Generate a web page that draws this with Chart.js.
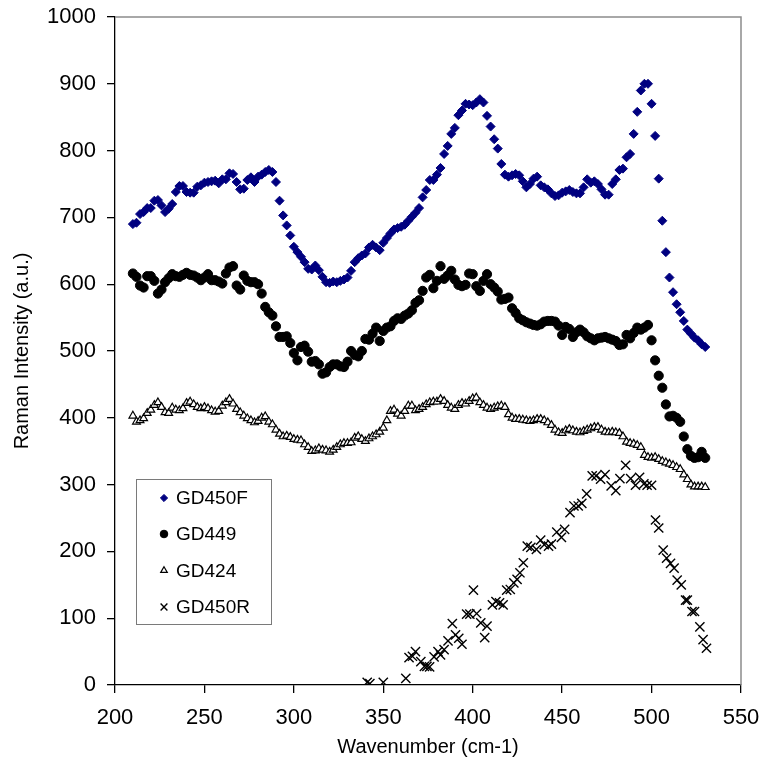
<!DOCTYPE html>
<html>
<head>
<meta charset="utf-8">
<title>Raman spectra</title>
<script src="https://cdn.jsdelivr.net/npm/chart.js@4.4.1/dist/chart.umd.min.js"></script>
<style>
  html, body { margin: 0; padding: 0; background: #fff; }
  #grafico { display: block; }
</style>
</head>
<body>
<canvas id="grafico" width="762" height="770"></canvas>
<script>
// eje x comun para las tres primeras series (cm-1)
var wavenumber = [
  210,212,214,216,218,220,222,224,226,228,
  230,232,234,236,238,240,242,244,246,248,
  250,252,254,256,258,260,262,264,266,268,
  270,272,274,276,278,280,282,284,286,288,
  290,292,294,296,298,300,302,304,306,308,
  310,312,314,316,318,320,322,324,326,328,
  330,332,334,336,338,340,342,344,346,348,
  350,352,354,356,358,360,362,364,366,368,
  370,372,374,376,378,380,382,384,386,388,
  390,392,394,396,398,400,402,404,406,408,
  410,412,414,416,418,420,422,424,426,428,
  430,432,434,436,438,440,442,444,446,448,
  450,452,454,456,458,460,462,464,466,468,
  470,472,474,476,478,480,482,484,486,488,
  490,492,494,496,498,500,502,504,506,508,
  510,512,514,516,518,520,522,524,526,528,
  530
];

var gd450f = [
  690,692,705,708,714,714,725,726,718,708,
  713,720,738,747,747,738,737,737,746,748,
  752,753,754,755,751,757,757,766,765,753,
  742,743,756,760,753,761,764,768,771,768,
  753,725,703,688,673,656,648,641,633,623,
  622,628,621,611,603,602,604,603,605,607,
  610,620,633,639,643,646,655,659,655,651,
  662,669,676,682,684,686,689,695,701,707,
  714,730,741,756,756,764,774,795,807,825,
  834,853,860,870,869,868,872,877,872,852,
  836,817,803,780,764,761,763,765,763,754,
  745,750,758,761,748,745,742,736,732,733,
  737,739,741,738,736,736,745,757,752,754,
  750,742,734,734,750,757,771,773,790,795,
  825,858,890,900,900,870,822,758,695,648,
  610,588,570,558,545,532,526,520,516,510,
  506
];

var gd449 = [
  616,611,598,595,612,612,605,586,592,603,
  609,615,612,611,614,617,614,613,610,606,
  610,615,606,606,604,601,616,625,627,598,
  592,613,605,603,603,600,586,566,558,553,
  537,521,521,522,512,497,486,506,508,499,
  484,485,480,466,468,476,480,480,477,476,
  484,500,494,492,500,518,517,526,535,515,
  530,535,537,545,549,548,553,556,561,572,
  576,590,610,614,594,605,627,608,613,620,
  607,599,597,599,616,615,597,590,605,615,
  600,595,589,577,578,580,564,557,549,546,
  543,541,539,538,540,544,545,545,544,538,
  524,536,533,521,528,532,528,522,519,516,
  519,520,521,519,517,515,509,510,524,519,
  527,535,532,535,539,516,486,463,445,420,
  402,403,400,394,372,353,343,340,341,349,
  340
];

var gd424 = [
  403,394,396,399,407,412,419,423,416,408,
  407,415,412,411,414,422,424,420,416,414,
  416,414,411,409,410,418,423,428,421,413,
  408,403,399,396,393,395,400,402,394,390,
  382,376,372,373,371,368,367,366,360,356,
  350,351,354,352,351,349,352,356,360,362,
  362,363,370,372,368,365,369,372,375,379,
  385,396,410,412,406,403,410,418,418,411,
  413,416,420,423,424,424,428,425,419,415,
  413,419,422,421,425,429,430,423,419,415,
  413,415,417,418,416,405,400,398,398,397,
  396,395,396,398,398,396,393,389,382,378,
  377,381,383,381,379,378,380,382,384,386,
  386,382,379,378,379,378,377,372,364,362,
  361,359,356,344,341,340,341,338,335,333,
  331,329,326,323,315,308,300,297,297,297,
  296
];

// GD450R tiene su propio eje x
var gd450rX = [
  341,342.5,350,362.6,364.4,366.3,368,371,373,374.4,
  375.9,378.4,380.6,382,384,386.2,388.6,390.4,392.2,394,
  396.6,398.4,400.4,402.2,404.5,406.7,408,411,413,415,
  417,419,421,423,424.8,426.4,428.3,430.5,432.5,435.6,
  438,440,442.4,444,447,449.6,451.4,454.4,456.6,459,
  461,463.7,466.8,469,471.5,474,477.4,480,482.3,485.5,
  488.3,491,493.3,495.7,497.5,500,502.2,504,506.5,508.4,
  510.6,512.6,514.3,516.6,519,520,522.6,524,527,528.8,
  530.7
];
var gd450rY = [
  4,2,4,10,41,43,50,35,28,28,
  27,42,50,45,53,66,92,75,70,61,
  106,106,142,107,93,71,88,120,125,123,
  120,142,143,153,158,168,183,208,206,203,
  217,210,208,211,229,221,233,258,268,268,
  272,286,313,313,308,315,298,291,309,329,
  309,299,311,301,299,299,247,235,202,190,
  182,175,157,150,127,127,110,110,87,68,
  55
];

var xTicks = [200, 250, 300, 350, 400, 450, 500, 550];
var yTicks = [0, 100, 200, 300, 400, 500, 600, 700, 800, 900, 1000];

var fuente = "'Liberation Sans', Arial, sans-serif";

function puntos(xs, ys) {
  return ys.map(function (y, i) { return { x: xs[i], y: y }; });
}

// marco gris arriba y a la derecha + leyenda dentro del area
var marcoPlugin = {
  id: 'marco',
  afterDraw: function (chart) {
    var ctx = chart.ctx;
    var a = chart.chartArea;
    ctx.save();
    ctx.strokeStyle = '#8c8c8c';
    ctx.lineWidth = 1.5;
    ctx.beginPath();
    ctx.moveTo(a.left, a.top);
    ctx.lineTo(a.right, a.top);
    ctx.lineTo(a.right, a.bottom);
    ctx.stroke();

    // leyenda
    var bx = a.left + 21, by = a.top + 462, bw = 135, bh = 145;
    ctx.fillStyle = '#fff';
    ctx.fillRect(bx, by, bw, bh);
    ctx.strokeStyle = '#7a7a7a';
    ctx.lineWidth = 1;
    ctx.strokeRect(bx + 0.5, by + 0.5, bw, bh);
    var filas = [19, 55, 91.5, 128];
    var radios = [3.6, 3.8, 3.8, 4.8];
    chart.data.datasets.forEach(function (ds, i) {
      var y = by + filas[i];
      ctx.fillStyle = ds.backgroundColor;
      ctx.strokeStyle = ds.borderColor;
      ctx.lineWidth = ds.borderWidth;
      Chart.helpers.drawPoint(ctx, {
        pointStyle: ds.pointStyle,
        radius: radios[i],
        rotation: 0,
        borderWidth: ds.borderWidth
      }, bx + 28, y);
      ctx.fillStyle = '#000';
      ctx.font = '19px ' + fuente;
      ctx.textBaseline = 'middle';
      ctx.textAlign = 'left';
      ctx.fillText(ds.label, bx + 40, y + 1);
    });
    ctx.restore();
  }
};

var ctx = document.getElementById('grafico').getContext('2d');
var grafico = new Chart(ctx, {
  type: 'scatter',
  data: {
    datasets: [
      {
        label: 'GD450F',
        data: puntos(wavenumber, gd450f),
        pointStyle: 'rectRot',
        pointRadius: 4.5,
        backgroundColor: '#000080',
        borderColor: '#000080',
        borderWidth: 1
      },
      {
        label: 'GD449',
        data: puntos(wavenumber, gd449),
        pointStyle: 'circle',
        pointRadius: 4.6,
        backgroundColor: '#000000',
        borderColor: '#000000',
        borderWidth: 1
      },
      {
        label: 'GD424',
        data: puntos(wavenumber, gd424),
        pointStyle: 'triangle',
        pointRadius: 4.5,
        backgroundColor: '#ffffff',
        borderColor: '#000000',
        borderWidth: 1.2
      },
      {
        label: 'GD450R',
        data: puntos(gd450rX, gd450rY),
        pointStyle: 'crossRot',
        pointRadius: 6.5,
        backgroundColor: '#000000',
        borderColor: '#000000',
        borderWidth: 1.4
      }
    ]
  },
  options: {
    responsive: false,
    animation: false,
    devicePixelRatio: 1,
    layout: { padding: { left: 0, right: 21, top: 17, bottom: 0 } },
    plugins: {
      legend: { display: false },
      tooltip: { enabled: false }
    },
    scales: {
      x: {
        type: 'linear',
        min: 200,
        max: 550,
        afterFit: function (scale) {
          scale.height = 85;
          scale.paddingLeft = 0;
          scale.paddingRight = 0;
        },
        afterBuildTicks: function (scale) {
          scale.ticks = xTicks.map(function (v) { return { value: v }; });
        },
        border: { display: true, color: '#000', width: 1.3 },
        grid: { drawOnChartArea: false, drawTicks: true, tickLength: 8, color: '#000', lineWidth: 1.3 },
        ticks: {
          color: '#000', font: { family: fuente, size: 22 }, padding: 12, maxRotation: 0,
          callback: function (v) { return String(v); }
        },
        title: {
          display: true,
          text: 'Wavenumber (cm-1)',
          color: '#000',
          font: { family: fuente, size: 20 },
          padding: { top: 0, bottom: 11 }
        }
      },
      y: {
        type: 'linear',
        min: 0,
        max: 1000,
        afterFit: function (scale) {
          scale.width = 115;
          scale.paddingTop = 0;
          scale.paddingBottom = 0;
        },
        afterBuildTicks: function (scale) {
          scale.ticks = yTicks.map(function (v) { return { value: v }; });
        },
        border: { display: true, color: '#000', width: 1.3 },
        grid: { drawOnChartArea: false, drawTicks: true, tickLength: 8, color: '#000', lineWidth: 1.3 },
        ticks: {
          color: '#000', font: { family: fuente, size: 22 }, padding: 11,
          callback: function (v) { return String(v); }
        },
        title: {
          display: true,
          text: 'Raman Intensity (a.u.)',
          color: '#000',
          font: { family: fuente, size: 20 },
          padding: { top: 10, bottom: 0 }
        }
      }
    }
  },
  plugins: [marcoPlugin]
});
</script>
</body>
</html>
